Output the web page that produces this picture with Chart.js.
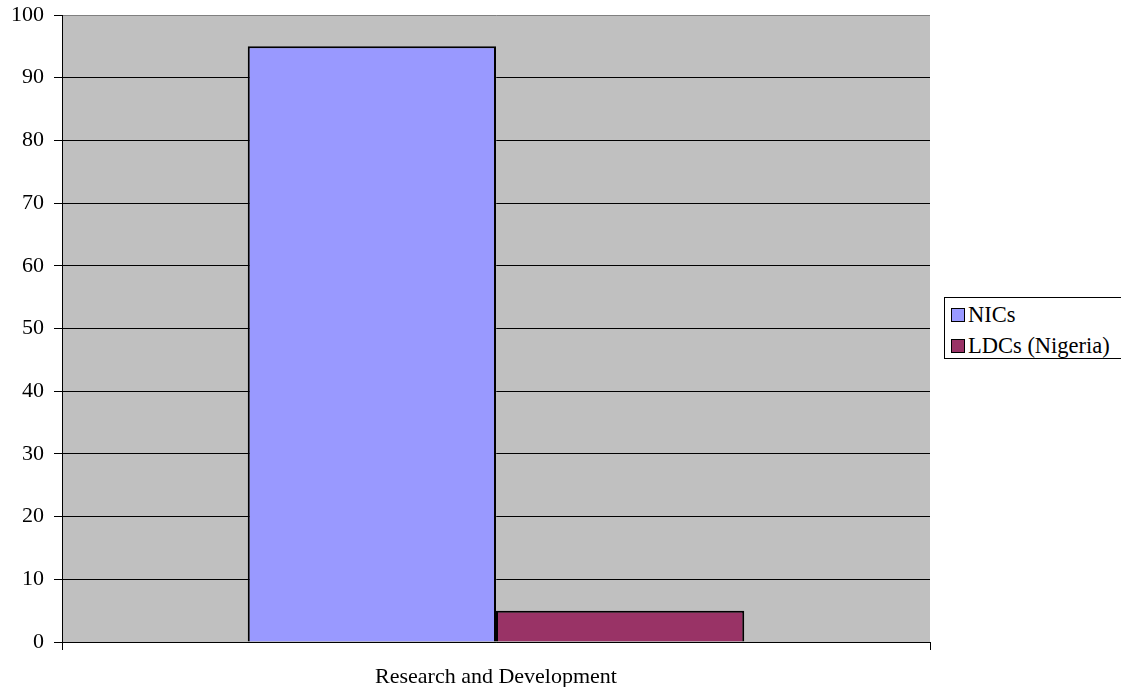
<!DOCTYPE html>
<html>
<head>
<meta charset="utf-8">
<script src="https://cdn.jsdelivr.net/npm/chart.js@4/dist/chart.umd.min.js"></script>
<style>
  html, body { margin: 0; padding: 0; background: #fff; overflow: hidden; }
  #wrap { position: relative; width: 1121px; height: 687px; overflow: hidden; }
  #legend {
    position: absolute; left: 944px; top: 297px; width: 190px; height: 62px;
    box-sizing: border-box; border: 1px solid #000; background: #fff;
    font-family: "Liberation Serif", "Times New Roman", serif; font-size: 22.5px;
    padding: 1px 0 0 6px; line-height: 31px; white-space: nowrap;
  }
  #legend .sw { display: inline-block; width: 12px; height: 12px; border: 1px solid #000; margin-right: 3px; vertical-align: 0px; }
</style>
</head>
<body>
<div id="wrap">
  <canvas id="c" width="1121" height="687"></canvas>
  <div id="legend"></div>
</div>
<script>
// chart data
const categories = ['Research and Development'];
const seriesNames = ['NICs', 'LDCs (Nigeria)'];
const nicsValues = [95];
const ldcsValues = [5];
const seriesColors = ['#9999FF', '#993366'];

const font = { family: '"Liberation Serif", "Times New Roman", serif', size: 22 };

const chart = new Chart(document.getElementById('c'), {
  type: 'bar',
  data: {
    labels: categories,
    datasets: [
      { label: seriesNames[0], data: nicsValues, backgroundColor: seriesColors[0], borderColor: '#000', borderWidth: 2 },
      { label: seriesNames[1], data: ldcsValues, backgroundColor: seriesColors[1], borderColor: '#000', borderWidth: 2 }
    ]
  },
  options: {
    responsive: false,
    animation: false,
    layout: { padding: { top: 15, right: 191, left: 0, bottom: 0 } },
    datasets: { bar: { categoryPercentage: 0.572, barPercentage: 1 } },
    plugins: { legend: { display: false }, tooltip: { enabled: false } },
    scales: {
      x: {
        offset: true,
        grid: { offset: true, drawOnChartArea: false, tickLength: 8, color: '#000' },
        border: { color: '#000' },
        ticks: { color: '#000', font: font, padding: 14 },
        afterFit: s => { s.height = 45; }
      },
      y: {
        min: 0, max: 100,
        ticks: { stepSize: 10, color: '#000', font: font, padding: 10 },
        grid: {
          color: ctx => ctx.tick && ctx.tick.value === 100 ? '#808080' : '#000',
          tickColor: '#000',
          tickLength: 8
        },
        border: { color: '#000' },
        afterFit: s => { s.width = 62; s.paddingTop = 0; s.paddingBottom = 0; }
      }
    }
  },
  plugins: [{
    id: 'plotBg',
    beforeDraw(c) {
      const a = c.chartArea;
      c.ctx.save();
      c.ctx.fillStyle = '#C0C0C0';
      c.ctx.fillRect(a.left, a.top, a.right - a.left, a.bottom - a.top);
      c.ctx.restore();
    }
  }]
});

// html legend
document.getElementById('legend').innerHTML = seriesNames.map((n, i) =>
  '<div><span class="sw" style="background:' + seriesColors[i] + '"></span>' + n + '</div>').join('');
</script>
</body>
</html>
